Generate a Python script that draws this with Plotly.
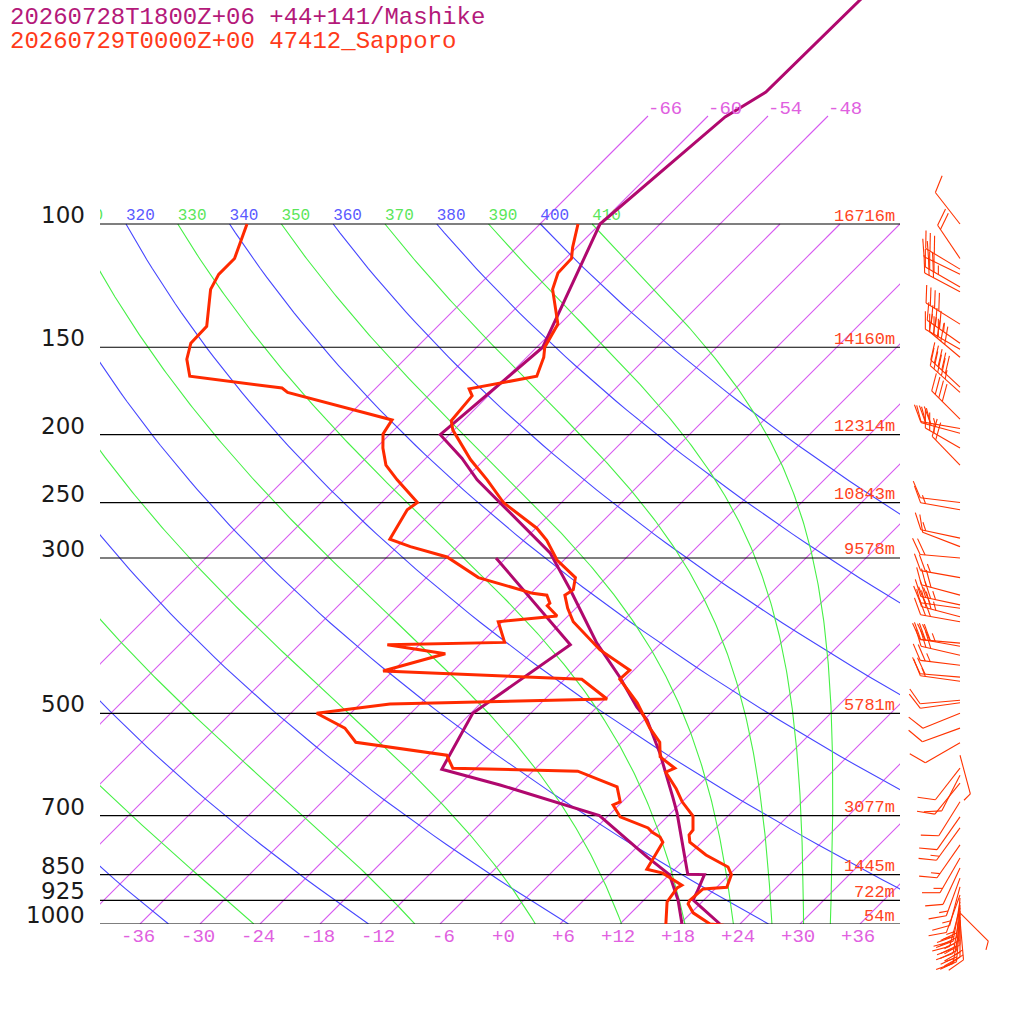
import math

import numpy as np
import plotly.graph_objects as go

# ---- sounding data (pressure hPa, temperature degC) ----
mashike_t_p = [1000, 924, 900, 850, 849, 759, 694, 659, 570, 511, 490, 444, 397, 333, 295, 232, 216, 200,
               150, 135, 100, 70.3, 64.8, 47.9, 40]
mashike_t = [22.0, 16.9, 16.5, 15.5, 13.8, 9.8, 6.6, 4.6, -1.1, -5.7, -8.0, -12.7, -18.4, -26.4, -32.1, -46.7,
             -50.4, -54.9, -53.4, -55.1, -60.0, -58.2, -56.6, -56.4, -56.4]

mashike_td_p = [1000, 924, 850, 802, 700, 633, 601, 500, 399, 300]
mashike_td = [18.2, 15.4, 12.0, 8.0, -0.9, -13.9, -21.3, -23.8, -20.9, -37.0]

sapporo_t_p = [1004, 1000, 964, 936, 925, 891, 886, 850, 829, 797, 764, 746, 734, 701, 669, 641, 607, 599,
               577, 550, 525, 483, 447, 434, 406, 370, 354, 339, 333, 320, 302, 283, 272, 256, 250, 232, 217,
               197, 191, 176, 172, 165, 155, 150, 139, 124, 117.5, 112, 108, 100]
sapporo_t = [22.5, 21.0, 18.2, 16.8, 16.6, 16.8, 19.0, 18.2, 17.1, 13.7, 10.8, 10.0, 9.9, 8.5, 6.0, 4.1, 1.4,
             1.9, -0.7, -2.2, -4.6, -8.4, -12.5, -12.4, -17.4, -22.9, -24.8, -26.4, -26.1, -27.1, -30.7, -33.7,
             -35.9, -40.1, -41.8, -45.7, -49.4, -54.1, -55.2, -55.6, -56.6, -51.1, -52.3, -53.2, -54.2, -58.2,
             -59.3, -59.4, -60.4, -62.2]

sapporo_td_p = [1004, 930, 888, 880, 846, 835, 764, 751, 739, 729, 703, 676, 669, 637, 605, 599, 574, 550,
                525, 500, 485, 477, 447, 435, 411, 399, 396, 370, 363, 351, 348, 339, 337, 320, 299, 289, 282,
                256, 250, 232, 221, 209, 199.5, 190.5, 174, 171.5, 165, 156, 148, 140, 124, 118, 112, 106, 100]
sapporo_td = [16.7, 14.5, 14.1, 14.3, 11.2, 9.2, 8.1, 7.3, 6.0, 5.2, 1.3, -0.6, -0.2, -2.0, -7.5, -20.3,
              -22.2, -32.6, -35.1, -39.4, -33.0, -11.8, -16.3, -37.0, -32.5, -39.2, -27.7, -30.4, -25.1, -27.1,
              -27.1, -28.2, -29.8, -36.8, -42.0, -46.7, -49.5, -50.7, -50.4, -54.7, -57.3, -59.3, -60.7, -61.2,
              -74.4, -75.4, -85.8, -87.8, -89.0, -89.1, -92.4, -93.1, -93.1, -94.2, -95.3]

# mandatory levels and their heights
levels = [100, 150, 200, 250, 300, 500, 700, 850, 925, 1000]
level_heights = ["16716m", "14160m", "12314m", "10843m", "9578m", "5781m", "3077m", "1445m", "722m", "54m"]

# wind (Sapporo): pressure, direction deg, speed kt
barb_p = [100, 112, 116, 118, 123, 125, 139, 148, 151, 155, 171, 174, 190, 196, 199, 209, 221,
          250, 256, 281, 289, 300, 320, 339, 350, 354, 364, 370, 397, 401, 413, 427, 444, 450, 479, 483, 500,
          525, 551,
          574, 599, 613, 629, 669, 703, 729, 771, 805, 832, 860, 885, 909,
          918, 930, 939, 948, 958, 964, 968, 977, 987, 993, 1000]
barb_dir = [322, 326, 301, 296, 300, 298, 302, 305, 300, 310, 313, 312, 315, 280, 285, 300, 316,
            277, 280, 282, 291, 275, 280, 285, 282, 278, 285, 280, 275, 280, 283, 277, 275, 278, 265, 262, 248,
            250, 240,
            165, 218, 207, 219, 212, 215, 216, 215, 210, 205, 200, 195, 200,
            185, 190, 180, 195, 185, 135, 190, 180, 175, 185, 190]
barb_kt = [10, 20, 30, 25, 35, 30, 40, 45, 40, 50, 50, 45, 40, 30, 35, 25, 20,
           10, 15, 15, 10, 20, 25, 30, 35, 30, 35, 30, 30, 35, 30, 25, 20, 15, 10, 10, 10, 10, 10,
           5, 10, 10, 10, 10, 10, 15, 15, 15, 10, 15, 15, 10,
           20, 25, 20, 25, 20, 5, 25, 20, 25, 20, 15]

isotherms = list(range(-66, 37, 6))
isotherm_labelled = [-66, -60, -54, -48]
dry_thetas = list(range(200, 401, 20))
moist_thetas = list(range(210, 411, 20))
x_ticks = list(range(-36, 37, 6))

# ---- diagram geometry ----
W = H = 1024
SKEW = 70.0            # degC per decade of pressure (45 deg skew)
TOP_LOG = 3 - 924 / 700
ISO_TOP = 70.1
KAPPA = 0.2857

MAGENTA = "rgb(176,8,110)"
RED = "rgb(255,42,0)"
ISO_COL = "rgb(214,90,240)"
LBL_COL = "rgb(224,96,224)"
BLUE = "rgb(70,70,255)"
GREEN = "rgb(70,240,70)"
MONO = "Liberation Mono"


def skew_x(t, p):
    return np.asarray(t, float) + SKEW * np.log10(1000.0 / np.asarray(p, float))


def moist_rate(p, t):
    es = 6.112 * np.exp(17.67 * (t - 273.15) / (t - 29.65))
    rs = 0.622 * es / (p - es)
    num = 287.04 * t + 2.501e6 * rs
    den = 1005.7 + (2.501e6 ** 2 * rs * 0.622) / (287.04 * t * t)
    return num / den / p


def moist_adiabat(theta_e, pres):
    t = theta_e * (pres[0] / 1000.0) ** KAPPA
    out = [t]
    for p0, p1 in zip(pres[:-1], pres[1:]):
        h = p1 - p0
        k1 = moist_rate(p0, t)
        k2 = moist_rate(p0 + h / 2, t + h / 2 * k1)
        k3 = moist_rate(p0 + h / 2, t + h / 2 * k2)
        k4 = moist_rate(p1, t + h * k3)
        t = t + h / 6 * (k1 + 2 * k2 + 2 * k3 + k4)
        out.append(t)
    return np.array(out) - 273.15


fig = go.Figure()

# isotherms
for t in isotherms:
    top = ISO_TOP if t in isotherm_labelled else 100
    fig.add_trace(go.Scatter(x=list(skew_x([t, t], [1000, top])), y=[1000, top], mode="lines",
                             line=dict(color=ISO_COL, width=1.1), hoverinfo="skip"))

# dry adiabats
pp = np.geomspace(1000, 100, 80)
for th in dry_thetas:
    tt = th * (pp / 1000.0) ** KAPPA - 273.15
    fig.add_trace(go.Scatter(x=skew_x(tt, pp), y=pp, mode="lines",
                             line=dict(color=BLUE, width=1.1), hoverinfo="skip"))

# moist adiabats (integrated downward from 100 hPa)
pm = np.geomspace(100, 1000, 241)
for th in moist_thetas:
    tt = moist_adiabat(th, pm)
    fig.add_trace(go.Scatter(x=skew_x(tt, pm), y=pm, mode="lines",
                             line=dict(color=GREEN, width=1.1), hoverinfo="skip"))

# adiabat labels at 100 hPa
lab_th = sorted(dry_thetas + moist_thetas)
lab_th = [th for th in lab_th if th >= 300]
fig.add_trace(go.Scatter(
    x=skew_x([th * 0.1 ** KAPPA - 273.15 for th in lab_th], [100] * len(lab_th)),
    y=[100] * len(lab_th), mode="text", text=[str(th) for th in lab_th],
    textposition="top right", cliponaxis=True,
    textfont=dict(family=MONO, size=16,
                  color=["rgb(90,90,255)" if th in dry_thetas else "rgb(90,230,90)" for th in lab_th]),
    hoverinfo="skip"))

# mandatory pressure lines
for p in levels:
    fig.add_trace(go.Scatter(x=[-40, 40], y=[p, p], mode="lines",
                             line=dict(color="black", width=1.2), hoverinfo="skip"))

# profiles
for pr, tv, col in [(mashike_t_p, mashike_t, MAGENTA), (mashike_td_p, mashike_td, MAGENTA),
                    (sapporo_t_p, sapporo_t, RED), (sapporo_td_p, sapporo_td, RED)]:
    fig.add_trace(go.Scatter(x=skew_x(tv, pr), y=pr, mode="lines",
                             line=dict(color=col, width=3), hoverinfo="skip"))

# wind barbs (pixel x axis, same pressure scale)
BARB_X, STAFF, FEATHER, GAP = 960, 40, 18, 5
bx, by = [], []
for p, wd, sp in zip(barb_p, barb_dir, barb_kt):
    th = math.radians(wd)
    sx, sy = math.sin(th), -math.cos(th)
    fx, fy = 0.5 * sx - 0.866 * sy, 0.866 * sx + 0.5 * sy
    segs = [[(0, 0), (STAFF * sx, STAFF * sy)]]
    n_full, half = divmod(int(round(sp / 5)), 2)
    pos = STAFF
    for i in range(n_full):
        ox, oy = pos * sx, pos * sy
        segs.append([(ox, oy), (ox + FEATHER * fx, oy + FEATHER * fy)])
        pos -= GAP
    if half:
        ox, oy = pos * sx, pos * sy
        segs.append([(ox, oy), (ox + FEATHER / 2 * fx, oy + FEATHER / 2 * fy)])
    for seg in segs:
        for dx, dy in seg:
            bx.append(BARB_X + dx)
            by.append(p * 10 ** (dy / 700.0))
        bx.append(None)
        by.append(None)
fig.add_trace(go.Scatter(x=bx, y=by, mode="lines", xaxis="x2", yaxis="y2",
                         line=dict(color="rgb(255,51,0)", width=1.1), hoverinfo="skip", cliponaxis=False))

# ---- annotations ----
ann = []
ann.append(dict(text="20260728T1800Z+06 +44+141/Mashike", x=8 / W, y=1 - 17 / H, xref="paper", yref="paper",
                xanchor="left", yanchor="middle", showarrow=False,
                font=dict(family=MONO, size=24, color="rgb(180,25,122)")))
ann.append(dict(text="20260729T0000Z+00 47412_Sapporo", x=8 / W, y=1 - 41 / H, xref="paper", yref="paper",
                xanchor="left", yanchor="middle", showarrow=False,
                font=dict(family=MONO, size=24, color="rgb(255,58,26)")))
for p, h in zip(levels, level_heights):
    ann.append(dict(text=str(p), x=87 / W, xref="paper", y=math.log10(p), yref="y", xanchor="right",
                    yanchor="middle", yshift=9, showarrow=False,
                    font=dict(family="DejaVu Sans", size=23, color="#1a1a1a")))
    ann.append(dict(text=h, x=40, xref="x", y=math.log10(p), yref="y", xanchor="right", xshift=-3,
                    yanchor="middle", yshift=8, showarrow=False,
                    font=dict(family=MONO, size=17, color="rgb(255,68,34)")))
for t in x_ticks:
    ann.append(dict(text=f"{t:+d}", x=t, xref="x", y=1 - 937 / H, yref="paper", xanchor="right", xshift=17,
                    yanchor="middle", showarrow=False, font=dict(family=MONO, size=19, color=LBL_COL)))
for t in isotherm_labelled:
    ann.append(dict(text=f"{t:+d}", x=float(skew_x(t, ISO_TOP)), xref="x", y=math.log10(ISO_TOP), yref="y",
                    xanchor="left", xshift=-2, yanchor="middle", yshift=7, showarrow=False,
                    font=dict(family=MONO, size=19, color=LBL_COL)))

fig.update_layout(
    width=W, height=H, margin=dict(l=0, r=0, t=0, b=0),
    paper_bgcolor="white", plot_bgcolor="white", showlegend=False,
    xaxis=dict(domain=[100 / W, 900 / W], range=[-40, 40], anchor="y",
               showgrid=False, zeroline=False, showticklabels=False, ticks=""),
    yaxis=dict(domain=[100 / H, 1], type="log", range=[3, TOP_LOG], anchor="x",
               showgrid=False, zeroline=False, showticklabels=False, ticks=""),
    xaxis2=dict(domain=[900 / W, 1], range=[900, 1024], anchor="y2",
                showgrid=False, zeroline=False, showticklabels=False, ticks=""),
    yaxis2=dict(domain=[0, 1], type="log", range=[3 + 100 / 700, TOP_LOG], anchor="x2",
                showgrid=False, zeroline=False, showticklabels=False, ticks=""),
    annotations=ann,
)

fig.write_html("out.html", config={"displayModeBar": False},
               post_script="document.body.style.margin='0px';")
